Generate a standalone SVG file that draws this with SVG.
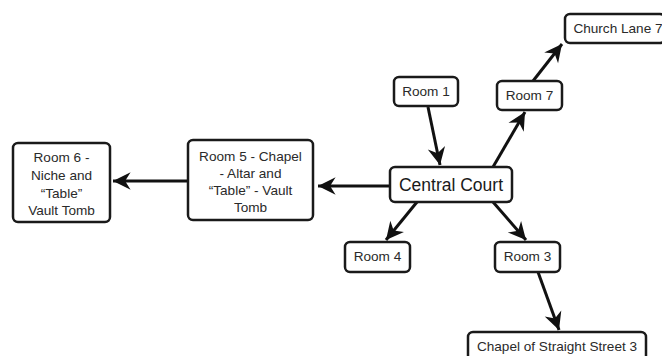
<svg xmlns="http://www.w3.org/2000/svg" width="662" height="356" viewBox="0 0 662 356">
<style>
.box{fill:#fff;stroke:#1a1a1a;stroke-width:2.5}
.t{font-family:"Liberation Sans",Arial,sans-serif;font-size:13.6px;fill:#2a2a2a;text-anchor:middle}
.big{font-size:17.5px;fill:#1a1a1a}
.c{stroke:#111;stroke-width:3;fill:none;marker-end:url(#ah)}
</style>
<defs>
<marker id="ah" markerUnits="userSpaceOnUse" markerWidth="22" markerHeight="22" viewBox="-18 -9 20 18" refX="0" refY="0" orient="auto">
<path d="M0,0 L-16,-8 L-11,0 L-16,8 Z" fill="#111"/>
</marker>
</defs>
<rect width="662" height="356" fill="#fff"/>
<g id="connectors">
<path class="c" d="M390,186 L318,186"/>
<path class="c" d="M188,181 L113,181"/>
<path class="c" d="M428,107 L440,165"/>
<path class="c" d="M493,167 L525,112"/>
<path class="c" d="M533,81 L562,44"/>
<path class="c" d="M417,202 L386,240"/>
<path class="c" d="M493,202 L526,240"/>
<path class="c" d="M538,272 L559,330"/>
</g>
<g id="central">
<rect class="box" x="390" y="167" width="122" height="35" rx="5"/>
<text class="t big" x="451" y="191">Central Court</text>
</g>
<g id="room1">
<rect class="box" x="394" y="77" width="64" height="29" rx="5"/>
<text class="t" x="426" y="96">Room 1</text>
</g>
<g id="room7">
<rect class="box" x="497" y="81" width="65" height="29" rx="5"/>
<text class="t" x="529.5" y="100">Room 7</text>
</g>
<g id="church">
<rect class="box" x="565" y="14" width="100" height="29" rx="5"/>
<text class="t" x="618" y="33">Church Lane 7</text>
</g>
<g id="room4">
<rect class="box" x="345" y="242" width="65" height="30" rx="5"/>
<text class="t" x="377.5" y="261">Room 4</text>
</g>
<g id="room3">
<rect class="box" x="495" y="242" width="65" height="30" rx="5"/>
<text class="t" x="527.5" y="261">Room 3</text>
</g>
<g id="chapel">
<rect class="box" x="468" y="332" width="178" height="30" rx="5"/>
<text class="t" x="557" y="351">Chapel of Straight Street 3</text>
</g>
<g id="room5">
<rect class="box" x="188" y="140" width="125" height="80" rx="5"/>
<text class="t" x="250.5" y="161">Room 5 - Chapel</text>
<text class="t" x="250.5" y="178">- Altar and</text>
<text class="t" x="250.5" y="195">“Table” - Vault</text>
<text class="t" x="250.5" y="212">Tomb</text>
</g>
<g id="room6">
<rect class="box" x="13" y="143" width="97" height="79" rx="5"/>
<text class="t" x="61.5" y="162">Room 6 -</text>
<text class="t" x="61.5" y="180">Niche and</text>
<text class="t" x="61.5" y="198">“Table”</text>
<text class="t" x="61.5" y="215">Vault Tomb</text>
</g>
</svg>
